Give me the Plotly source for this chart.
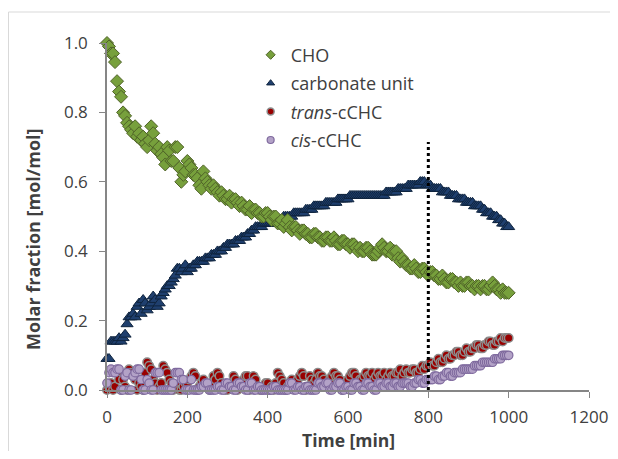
import plotly.graph_objects as go

time_min = list(range(0, 1001, 5))

cho = [1.00, 0.99, 0.97, 0.97, 0.945, 0.89, 0.86, 0.845, 0.80, 0.79,
       0.77, 0.76, 0.75, 0.74, 0.76, 0.73, 0.74, 0.72, 0.73, 0.71,
       0.70, 0.72, 0.76, 0.74, 0.71, 0.69, 0.70, 0.68, 0.67, 0.65,
       0.70, 0.69, 0.66, 0.66, 0.70, 0.70, 0.64, 0.60, 0.62, 0.63,
       0.66, 0.65, 0.64, 0.62, 0.62, 0.61, 0.59, 0.58, 0.63, 0.61,
       0.60, 0.59, 0.58, 0.59, 0.58, 0.57, 0.56, 0.57, 0.56, 0.55,
       0.55, 0.56, 0.54, 0.55, 0.55, 0.54, 0.53, 0.54, 0.53, 0.52,
       0.52, 0.53, 0.51, 0.52, 0.52, 0.51, 0.51, 0.50, 0.50, 0.51,
       0.51, 0.50, 0.49, 0.50, 0.50, 0.48, 0.48, 0.49, 0.47, 0.48,
       0.49, 0.47, 0.46, 0.47, 0.47, 0.46, 0.45, 0.46, 0.46, 0.45,
       0.45, 0.44, 0.44, 0.45, 0.45, 0.44, 0.44, 0.43, 0.43, 0.44,
       0.44, 0.43, 0.43, 0.44, 0.43, 0.42, 0.42, 0.43, 0.43, 0.42,
       0.42, 0.41, 0.42, 0.42, 0.41, 0.40, 0.41, 0.40, 0.40, 0.41,
       0.41, 0.40, 0.39, 0.39, 0.39, 0.40, 0.41, 0.42, 0.41, 0.40,
       0.40, 0.41, 0.39, 0.40, 0.40, 0.38, 0.37, 0.38, 0.37, 0.36,
       0.36, 0.35, 0.35, 0.36, 0.35, 0.34, 0.34, 0.35, 0.35, 0.34,
       0.33, 0.34, 0.34, 0.33, 0.33, 0.32, 0.32, 0.33, 0.32, 0.31,
       0.31, 0.32, 0.32, 0.31, 0.31, 0.30, 0.31, 0.30, 0.30, 0.31,
       0.31, 0.30, 0.30, 0.29, 0.30, 0.30, 0.29, 0.30, 0.30, 0.29,
       0.29, 0.30, 0.31, 0.30, 0.29, 0.29, 0.28, 0.29, 0.28, 0.28,
       0.28]

carbonate = [0.09, 0.09, 0.14, 0.14, 0.14, 0.14, 0.15, 0.14, 0.15, 0.16,
             0.19, 0.21, 0.21, 0.22, 0.21, 0.24, 0.25, 0.22, 0.26, 0.25,
             0.23, 0.24, 0.25, 0.27, 0.26, 0.24, 0.25, 0.27, 0.28, 0.29,
             0.30, 0.30, 0.31, 0.32, 0.33, 0.35, 0.35, 0.34, 0.35, 0.36,
             0.34, 0.35, 0.35, 0.36, 0.36, 0.37, 0.37, 0.37, 0.37, 0.38,
             0.38, 0.38, 0.39, 0.39, 0.39, 0.40, 0.40, 0.40, 0.41, 0.41,
             0.42, 0.42, 0.42, 0.42, 0.43, 0.43, 0.43, 0.44, 0.44, 0.44,
             0.45, 0.45, 0.46, 0.46, 0.47, 0.47, 0.47, 0.47, 0.48, 0.48,
             0.48, 0.48, 0.48, 0.48, 0.49, 0.49, 0.49, 0.49, 0.50, 0.50,
             0.50, 0.50, 0.50, 0.51, 0.51, 0.51, 0.51, 0.51, 0.51, 0.52,
             0.52, 0.52, 0.52, 0.53, 0.53, 0.53, 0.53, 0.53, 0.53, 0.54,
             0.54, 0.54, 0.54, 0.54, 0.54, 0.55, 0.55, 0.55, 0.55, 0.55,
             0.55, 0.56, 0.56, 0.56, 0.56, 0.56, 0.56, 0.56, 0.56, 0.56,
             0.56, 0.56, 0.56, 0.56, 0.56, 0.56, 0.56, 0.56, 0.56, 0.57,
             0.57, 0.57, 0.57, 0.57, 0.57, 0.58, 0.58, 0.58, 0.58, 0.58,
             0.59, 0.59, 0.59, 0.59, 0.59, 0.59, 0.60, 0.60, 0.60, 0.59,
             0.59, 0.59, 0.58, 0.58, 0.58, 0.58, 0.58, 0.57, 0.57, 0.57,
             0.57, 0.56, 0.56, 0.56, 0.56, 0.55, 0.55, 0.55, 0.55, 0.54,
             0.54, 0.54, 0.54, 0.53, 0.53, 0.53, 0.53, 0.52, 0.52, 0.51,
             0.51, 0.51, 0.50, 0.50, 0.50, 0.49, 0.49, 0.48, 0.48, 0.47,
             0.47]

trans_cchc = [0.00, 0.01, 0.02, 0.00, 0.01, 0.05, 0.03, 0.00, 0.03, 0.01,
              0.00, 0.06, 0.05, 0.04, 0.03, 0.00, 0.02, 0.01, 0.00, 0.05,
              0.08, 0.07, 0.06, 0.03, 0.02, 0.00, 0.01, 0.02, 0.07, 0.06,
              0.05, 0.03, 0.02, 0.00, 0.01, 0.01, 0.00, 0.00, 0.01, 0.02,
              0.02, 0.03, 0.04, 0.05, 0.04, 0.00, 0.01, 0.02, 0.03, 0.01,
              0.01, 0.00, 0.02, 0.04, 0.03, 0.05, 0.04, 0.02, 0.01, 0.00,
              0.00, 0.01, 0.02, 0.04, 0.03, 0.00, 0.01, 0.02, 0.03, 0.04,
              0.04, 0.00, 0.01, 0.04, 0.03, 0.01, 0.00, 0.00, 0.01, 0.02,
              0.02, 0.00, 0.01, 0.00, 0.02, 0.05, 0.04, 0.03, 0.02, 0.00,
              0.01, 0.02, 0.03, 0.01, 0.02, 0.03, 0.04, 0.05, 0.04, 0.00,
              0.01, 0.04, 0.03, 0.02, 0.03, 0.05, 0.04, 0.04, 0.03, 0.01,
              0.02, 0.03, 0.04, 0.05, 0.04, 0.04, 0.03, 0.00, 0.01, 0.02,
              0.03, 0.04, 0.05, 0.05, 0.04, 0.02, 0.03, 0.03, 0.04, 0.05,
              0.04, 0.04, 0.05, 0.03, 0.04, 0.05, 0.04, 0.04, 0.05, 0.03,
              0.04, 0.05, 0.04, 0.04, 0.05, 0.05, 0.06, 0.04, 0.05, 0.06,
              0.05, 0.05, 0.06, 0.06, 0.05, 0.05, 0.06, 0.07, 0.06, 0.07,
              0.07, 0.08, 0.07, 0.07, 0.08, 0.09, 0.08, 0.08, 0.09, 0.10,
              0.09, 0.09, 0.10, 0.10, 0.11, 0.11, 0.10, 0.10, 0.11, 0.12,
              0.11, 0.11, 0.12, 0.12, 0.13, 0.13, 0.12, 0.12, 0.13, 0.13,
              0.14, 0.14, 0.13, 0.13, 0.14, 0.14, 0.15, 0.14, 0.15, 0.15,
              0.15]

cis_cchc = [0.02, 0.05, 0.06, 0.05, 0.05, 0.06, 0.06, 0.00, 0.00, 0.04,
            0.05, 0.00, 0.00, 0.04, 0.05, 0.06, 0.06, 0.03, 0.00, 0.00,
            0.03, 0.02, 0.00, 0.00, 0.05, 0.05, 0.05, 0.00, 0.00, 0.00,
            0.00, 0.00, 0.00, 0.02, 0.05, 0.05, 0.05, 0.03, 0.03, 0.00,
            0.00, 0.00, 0.03, 0.00, 0.00, 0.00, 0.00, 0.01, 0.01, 0.02,
            0.02, 0.00, 0.00, 0.00, 0.00, 0.01, 0.01, 0.00, 0.00, 0.02,
            0.02, 0.01, 0.01, 0.00, 0.00, 0.02, 0.02, 0.01, 0.01, 0.00,
            0.00, 0.02, 0.02, 0.00, 0.00, 0.01, 0.01, 0.00, 0.00, 0.00,
            0.00, 0.00, 0.00, 0.01, 0.01, 0.00, 0.00, 0.00, 0.00, 0.00,
            0.00, 0.02, 0.02, 0.00, 0.00, 0.01, 0.01, 0.00, 0.00, 0.01,
            0.01, 0.00, 0.00, 0.00, 0.00, 0.02, 0.02, 0.01, 0.01, 0.02,
            0.02, 0.00, 0.00, 0.01, 0.01, 0.02, 0.02, 0.00, 0.00, 0.01,
            0.01, 0.00, 0.00, 0.02, 0.02, 0.01, 0.01, 0.00, 0.00, 0.02,
            0.02, 0.01, 0.01, 0.00, 0.00, 0.02, 0.02, 0.01, 0.01, 0.02,
            0.02, 0.01, 0.01, 0.02, 0.02, 0.01, 0.01, 0.02, 0.02, 0.02,
            0.02, 0.01, 0.01, 0.02, 0.02, 0.03, 0.03, 0.02, 0.02, 0.03,
            0.03, 0.03, 0.03, 0.04, 0.04, 0.03, 0.03, 0.04, 0.04, 0.05,
            0.05, 0.04, 0.04, 0.05, 0.05, 0.05, 0.05, 0.06, 0.06, 0.06,
            0.06, 0.06, 0.06, 0.07, 0.07, 0.07, 0.07, 0.08, 0.08, 0.08,
            0.08, 0.08, 0.08, 0.09, 0.09, 0.09, 0.09, 0.10, 0.10, 0.10,
            0.10]

marker_time = [800, 800]
marker_line_y = [0.0, 0.715]

x_ticks = [0, 200, 400, 600, 800, 1000, 1200]
y_ticks = [0.0, 0.2, 0.4, 0.6, 0.8, 1.0]

FONT = "Open Sans"
TXT = "#404040"

# the page body adds an 8px margin, so the figure is sized to fit inside it
W, H = 602, 443
L, R, T, B = 99, 21, 35, 61
PW, PH = W - L - R, H - T - B

styles = {
    "CHO": dict(symbol="diamond", color="#77A03C", line=dict(color="#4F6228", width=1)),
    "carbonate unit": dict(symbol="triangle-up", color="#1F3F6E", line=dict(color="#0F243E", width=1)),
    "<i>trans</i>-cCHC": dict(symbol="circle", color="#990000", line=dict(color="#8C8C8C", width=1.5)),
    "<i>cis</i>-cCHC": dict(symbol="circle", color="#B3A2C7", line=dict(color="#7F6A9E", width=1.2)),
}
sizes = {"CHO": 10, "carbonate unit": 10.5, "<i>trans</i>-cCHC": 8.5, "<i>cis</i>-cCHC": 8.5}

fig = go.Figure()

for name, vals in [("<i>trans</i>-cCHC", trans_cchc), ("<i>cis</i>-cCHC", cis_cchc),
                   ("carbonate unit", carbonate), ("CHO", cho)]:
    st = styles[name]
    fig.add_trace(go.Scatter(
        x=time_min, y=vals, mode="markers", name=name, showlegend=False,
        cliponaxis=False,
        marker=dict(symbol=st["symbol"], size=sizes[name], color=st["color"],
                    line=st["line"])))

for rank, name in enumerate(["CHO", "carbonate unit", "<i>trans</i>-cCHC", "<i>cis</i>-cCHC"]):
    st = styles[name]
    fig.add_trace(go.Scatter(
        x=[None], y=[None], mode="markers", name=name, legendrank=rank + 1,
        legendgroup=name,
        marker=dict(symbol=st["symbol"], size=7, color=st["color"], line=st["line"])))

fig.add_trace(go.Scatter(
    x=marker_time, y=marker_line_y, mode="lines", showlegend=False,
    cliponaxis=False, hoverinfo="skip",
    line=dict(color="black", width=3, dash="dot")))

axis_common = dict(ticks="outside", ticklen=6, tickcolor="#868686", showline=True,
                   linecolor="#868686", linewidth=1.5, showgrid=False,
                   zeroline=False, automargin=False,
                   tickfont=dict(size=17, color=TXT, family=FONT))

fig.update_layout(
    width=W, height=H,
    margin=dict(l=L, r=R, t=T, b=B),
    paper_bgcolor="white", plot_bgcolor="white",
    font=dict(family=FONT, size=15, color=TXT),
    legend=dict(x=0.298, y=1.0185, xanchor="left", yanchor="top",
                bgcolor="rgba(0,0,0,0)", font=dict(size=18, color=TXT),
                traceorder="grouped", tracegroupgap=2, itemsizing="trace"),
    xaxis=dict(range=[0, 1200], tickvals=x_ticks, ticklabelstandoff=5,
               **axis_common),
    yaxis=dict(range=[0, 1.0], tickvals=y_ticks, tickformat=".1f",
               ticklabelstandoff=8, **axis_common),
    annotations=[
        dict(text="<b>Molar fraction [mol/mol]</b>", textangle=-90,
             xref="paper", yref="paper",
             x=(25 - L) / PW, y=(H - B - 231) / PH,
             xanchor="center", yanchor="middle", showarrow=False,
             font=dict(size=18, color=TXT, family=FONT)),
        dict(text="<b>Time [min]</b>",
             xref="paper", yref="paper",
             x=(340 - L) / PW, y=(H - B - 432) / PH,
             xanchor="center", yanchor="middle", showarrow=False,
             font=dict(size=17.5, color=TXT, family=FONT)),
    ],
    shapes=[dict(type="rect", xref="paper", yref="paper",
                 x0=(0.5 - L) / PW, x1=(W + 20 - L) / PW,
                 y0=(H - B - (H + 20)) / PH, y1=(H - B - 4) / PH,
                 line=dict(color="#D9D9D9", width=1), layer="below")],
)

fig.write_html("out.html")
